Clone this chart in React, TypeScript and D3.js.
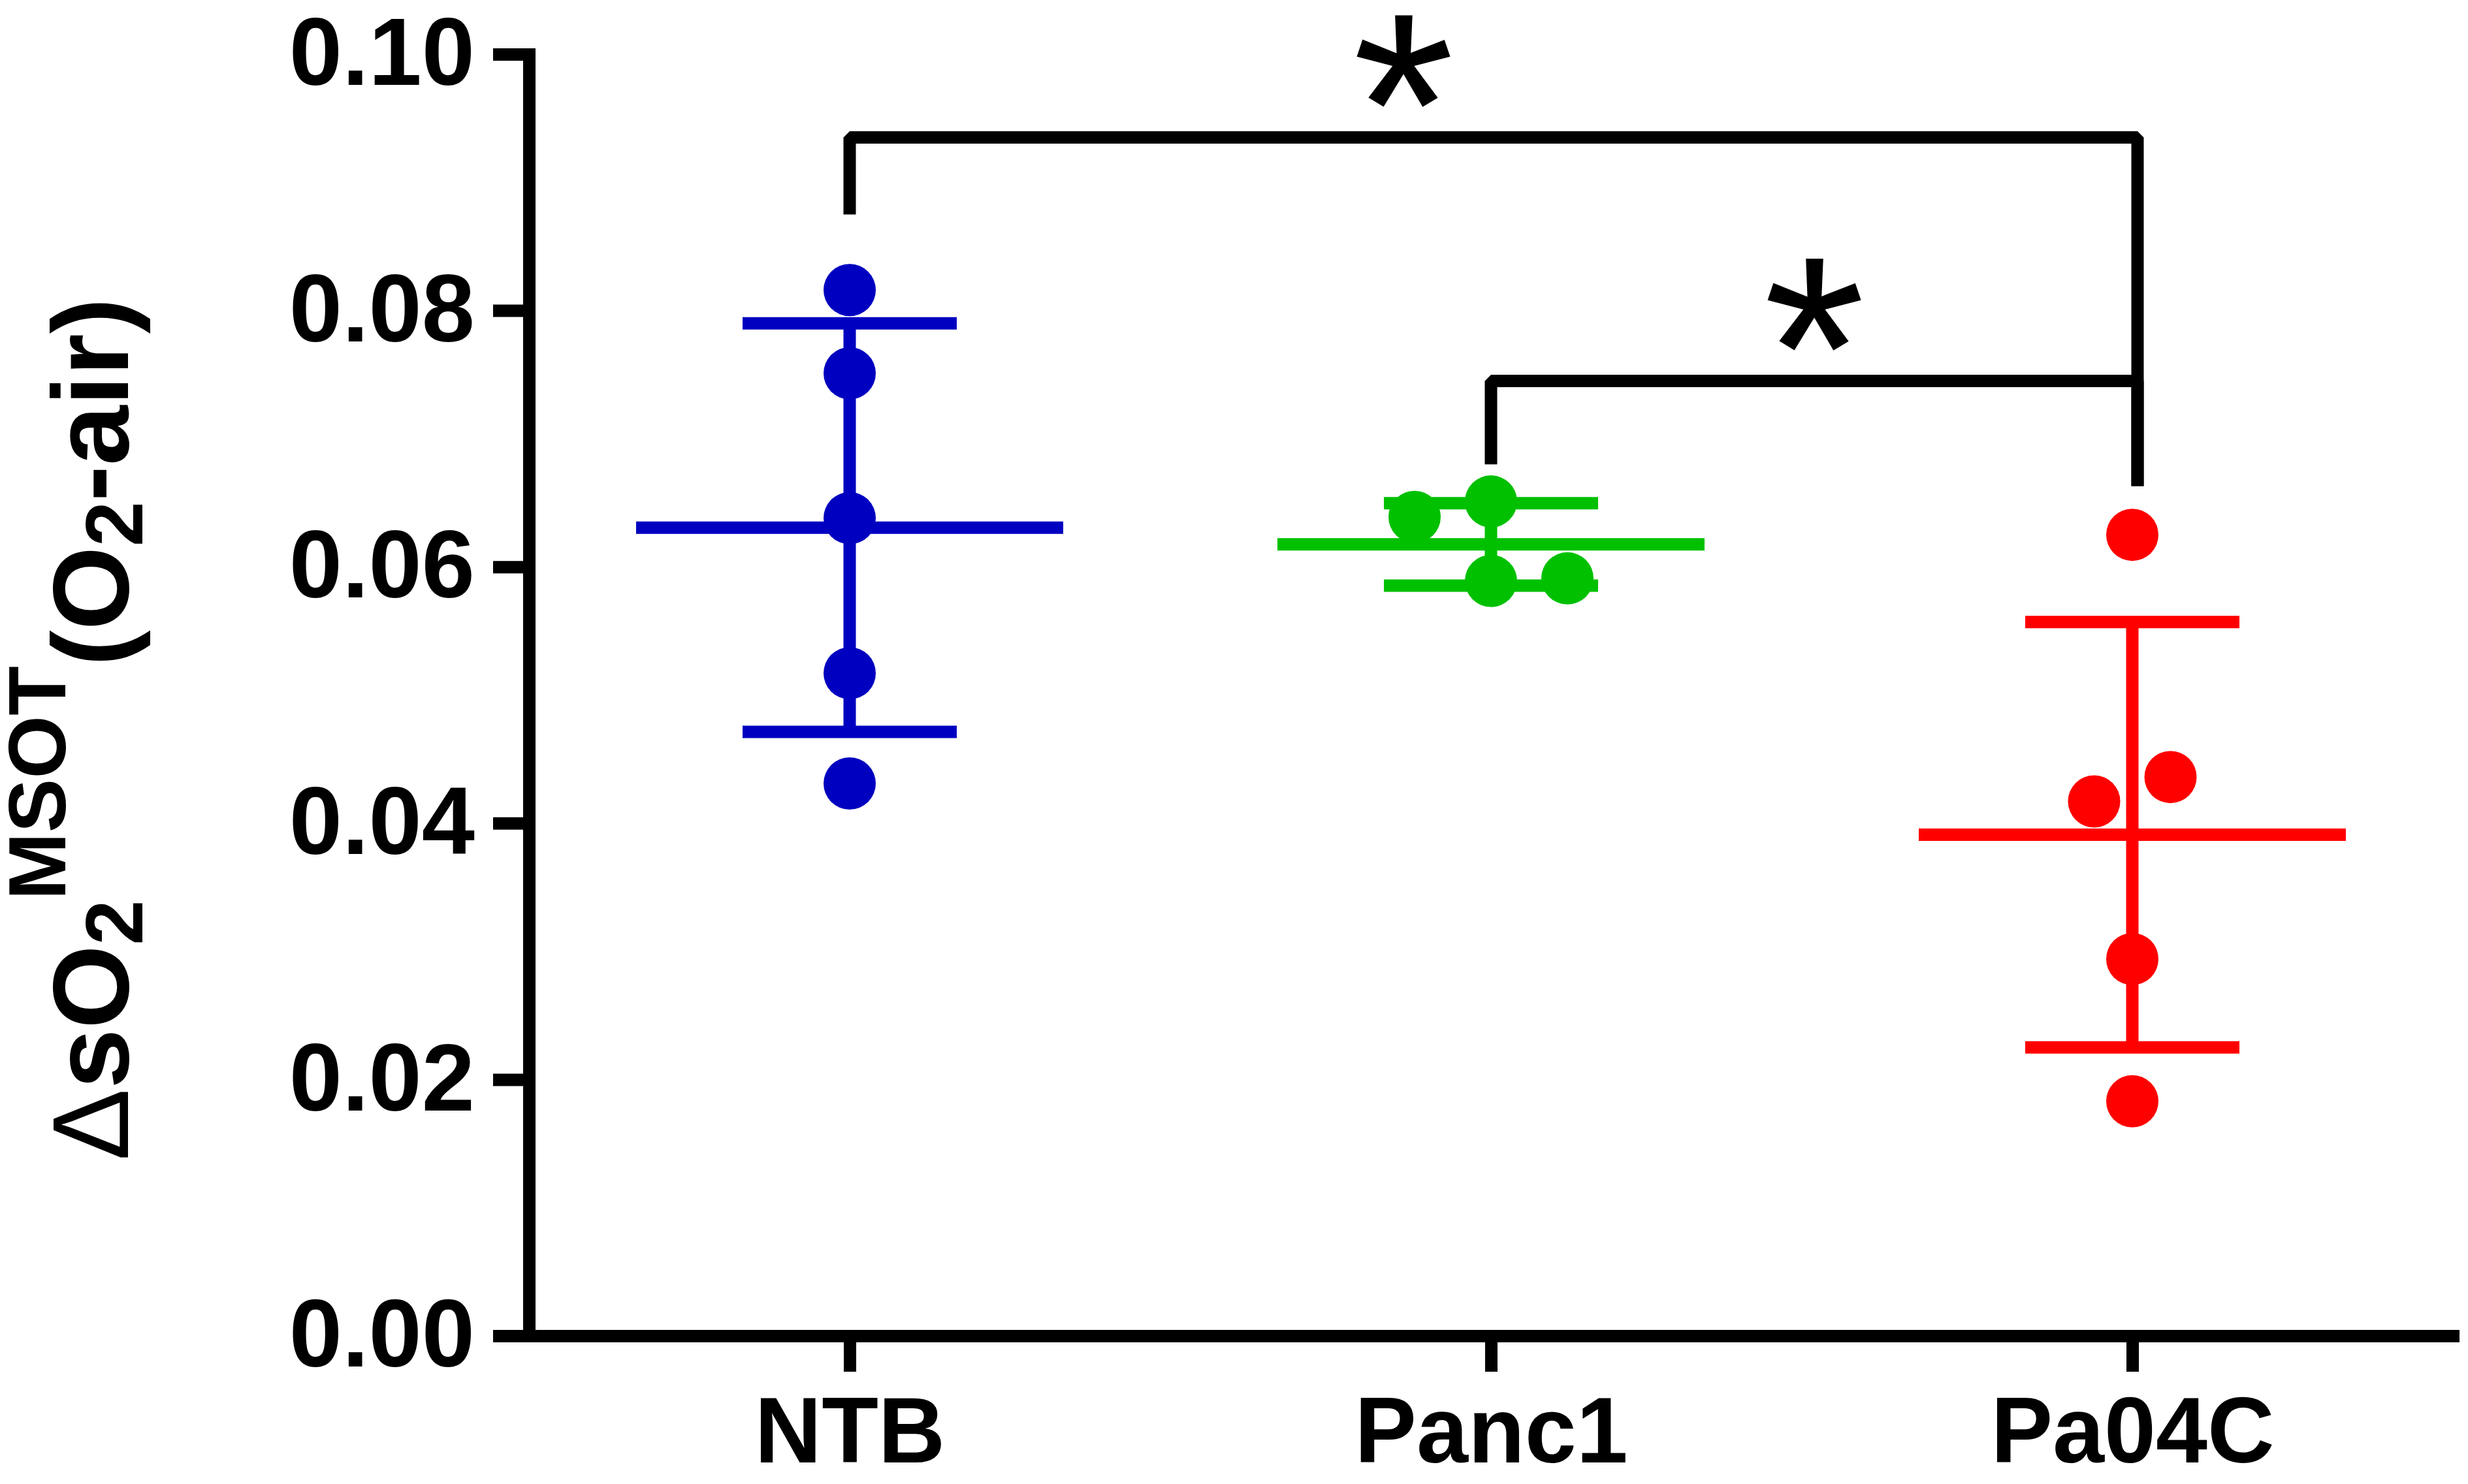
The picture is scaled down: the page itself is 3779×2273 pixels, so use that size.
import * as d3 from "d3";
import { useEffect, useRef } from "react";

const groups = ["NTB", "Panc1", "Pa04C"];
const groupColors = ["#0000c0", "#00c000", "#ff0000"];

// individual animals
const ntbValues = [0.0816, 0.0751, 0.0638, 0.0517, 0.0431];
const panc1Values = [0.0639, 0.0651, 0.0589, 0.0591];
const pa04cValues = [0.0625, 0.0417, 0.0436, 0.0294, 0.0183];

// scatter columns (GraphPad style side-by-side dots)
const ntbLanes = [0, 0, 0, 0, 0];
const panc1Lanes = [-1, 0, 0, 1];
const pa04cLanes = [0, -0.5, 0.5, 0, 0];

const yTicks = [0, 0.02, 0.04, 0.06, 0.08, 0.1];

const brackets = [
  { from: "NTB", to: "Pa04C", bar: 0.0935, leftEnd: 0.0875, rightEnd: 0.0663, label: "*", labelAt: 0.43 },
  { from: "Panc1", to: "Pa04C", bar: 0.0745, leftEnd: 0.068, rightEnd: 0.0663, label: "*", labelAt: 0.5 },
];

const W = 3779;
const H = 2273;
const FONT = "'Liberation Sans', Arial, sans-serif";
const LW = 19;

export default function App() {
  const ref = useRef<SVGSVGElement>(null);

  useEffect(() => {
    if (!ref.current) return;
    const svg = d3.select(ref.current);
    svg.selectAll("*").remove();

    const margin = { left: 810, right: W - 3756, top: 83, bottom: H - 2046 };

    const x = d3
      .scalePoint<string>()
      .domain(groups)
      .range([margin.left, W - margin.right])
      .padding(0.5);

    const y = d3
      .scaleLinear()
      .domain([0, 0.1])
      .range([H - margin.bottom, margin.top]);

    const series = [
      { name: "NTB", values: ntbValues, lanes: ntbLanes },
      { name: "Panc1", values: panc1Values, lanes: panc1Lanes },
      { name: "Pa04C", values: pa04cValues, lanes: pa04cLanes },
    ];

    const laneWidth = 117;
    const meanHalf = 327;
    const capHalf = 164;

    // error bars: mean +/- SD
    series.forEach((s, i) => {
      const color = groupColors[i];
      const cx = x(s.name)!;
      const m = d3.mean(s.values)!;
      const sd = d3.deviation(s.values)!;
      const g = svg.append("g").attr("stroke", color).attr("stroke-width", LW);
      g.append("line")
        .attr("x1", cx).attr("x2", cx)
        .attr("y1", y(m + sd)).attr("y2", y(m - sd));
      g.append("line")
        .attr("x1", cx - meanHalf).attr("x2", cx + meanHalf)
        .attr("y1", y(m)).attr("y2", y(m));
      [m + sd, m - sd].forEach((v) => {
        g.append("line")
          .attr("x1", cx - capHalf).attr("x2", cx + capHalf)
          .attr("y1", y(v)).attr("y2", y(v));
      });

      svg.append("g")
        .selectAll("circle")
        .data(s.values)
        .enter()
        .append("circle")
        .attr("cx", (_, j) => cx + s.lanes[j] * laneWidth)
        .attr("cy", (d) => y(d))
        .attr("r", 40)
        .attr("fill", color);
    });

    // axes
    const yAxis = svg
      .append("g")
      .attr("transform", `translate(${margin.left},0)`)
      .call(
        d3.axisLeft(y)
          .tickValues(yTicks)
          .tickFormat(d3.format(".2f"))
          .tickSize(55)
          .tickSizeOuter(0)
          .tickPadding(28)
      );

    const xAxis = svg
      .append("g")
      .attr("transform", `translate(0,${H - margin.bottom})`)
      .call(d3.axisBottom(x).tickSize(55).tickSizeOuter(0).tickPadding(38));

    [yAxis, xAxis].forEach((a) => {
      a.selectAll("path, line").attr("stroke", "#000").attr("stroke-width", LW);
      a.select(".domain").attr("stroke-linecap", "square");
      a.selectAll("text")
        .attr("fill", "#000")
        .attr("font-family", FONT)
        .attr("font-weight", "bold");
    });
    yAxis.selectAll("text").attr("font-size", 146);
    xAxis.selectAll("text").attr("font-size", 142);

    // significance brackets
    brackets.forEach((b) => {
      const x0 = x(b.from)!;
      const x1 = x(b.to)! + 8;
      const p = d3.path();
      p.moveTo(x0, y(b.leftEnd));
      p.lineTo(x0, y(b.bar));
      p.lineTo(x1, y(b.bar));
      p.lineTo(x1, y(b.rightEnd));
      svg.append("path")
        .attr("d", p.toString())
        .attr("fill", "none")
        .attr("stroke", "#000")
        .attr("stroke-width", LW)
        .attr("stroke-linejoin", "bevel");
      svg.append("text")
        .attr("x", x0 + (x1 - x0) * b.labelAt)
        .attr("y", y(b.bar) + 88)
        .attr("text-anchor", "middle")
        .attr("font-family", FONT)
        .attr("font-size", 400)
        .text(b.label);
    });

    // y axis title
    const t = svg
      .append("text")
      .attr("transform", `translate(196,1117) rotate(-90)`)
      .attr("text-anchor", "middle")
      .attr("font-family", FONT)
      .attr("font-weight", "bold")
      .attr("font-size", 165)
      .attr("fill", "#000");
    t.append("tspan").attr("font-weight", "normal").text("Δ");
    t.append("tspan").text("sO");
    t.append("tspan").attr("font-size", 124).attr("dy", 22).text("2");
    t.append("tspan").attr("font-size", 124).attr("dy", -118).text("MSOT");
    t.append("tspan").attr("dy", 96).text("(O");
    t.append("tspan").attr("font-size", 124).attr("dy", 22).text("2");
    t.append("tspan").attr("dy", -22).text("-air)");
  }, []);

  return (
    <svg
      ref={ref}
      width={W}
      height={H}
      style={{ position: "absolute", left: 0, top: 0, background: "#fff" }}
    />
  );
}
